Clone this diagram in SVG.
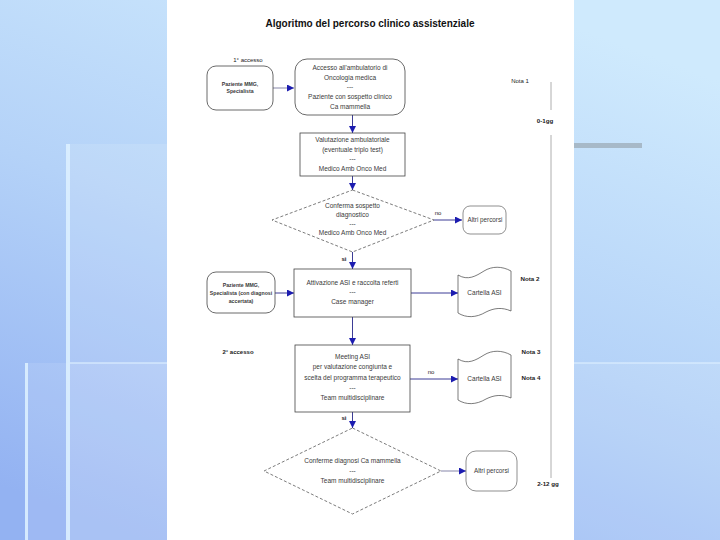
<svg xmlns="http://www.w3.org/2000/svg" width="720" height="540" viewBox="0 0 720 540">
<defs>
<linearGradient id="bg" x1="0.7" y1="0" x2="0.2" y2="1">
<stop offset="0" stop-color="#cfeafd"/>
<stop offset="0.5" stop-color="#b4d2f8"/>
<stop offset="1" stop-color="#93b2f2"/>
</linearGradient>
<marker id="ah" viewBox="0 0 10 10" refX="10" refY="5" markerWidth="7" markerHeight="7" markerUnits="userSpaceOnUse" orient="auto">
<path d="M0,0 L10,5 L0,10 Z" fill="#1c1cb0"/>
</marker>
<style>
.t{font-family:"Liberation Sans",Arial,sans-serif;fill:#3a3a3a;text-anchor:middle}
.s{font-size:6.5px}
.b{font-size:5.2px;font-weight:bold}
.n{font-size:6px;fill:#222}
.nb{font-size:6.2px;font-weight:bold;fill:#222}
.shp{fill:#fff;stroke:#444;stroke-width:0.8}
.dsh{fill:#fff;stroke:#444;stroke-width:0.7;stroke-dasharray:3,2}
.c{fill:none;stroke:#3d3d96;stroke-width:1;marker-end:url(#ah)}
.cg{fill:none;stroke:#9a9ab8;stroke-width:1.2;marker-end:url(#ah)}
</style>
</defs>
<rect width="720" height="540" fill="url(#bg)"/>
<g id="decor">
<rect x="68" y="144" width="100" height="396" fill="#ffffff" opacity="0.12"/>
<rect x="26" y="363" width="142" height="177" fill="#ffffff" opacity="0.1"/>
<rect x="574" y="363" width="146" height="177" fill="#ffffff" opacity="0.1"/>
<rect x="66" y="144" width="4" height="396" fill="#dcefff" opacity="0.9"/>
<rect x="25" y="363" width="3" height="177" fill="#dcefff" opacity="0.9"/>
<rect x="70" y="362" width="98" height="2" fill="#dcefff" opacity="0.6"/>
<rect x="574" y="362" width="146" height="2" fill="#dcefff" opacity="0.6"/>
<rect x="574" y="143" width="68" height="5" fill="#a7b9c8"/>
</g>
<rect x="167" y="0" width="407" height="540" fill="#ffffff"/>
<text class="t" x="370" y="27" style="font-size:10px;font-weight:bold;fill:#111">Algoritmo del percorso clinico assistenziale</text>
<g id="labels">
<text class="t n" x="248" y="62">1° accesso</text>
<text class="t n" x="238" y="354" style="font-weight:bold">2° accesso</text>
<text class="t n" x="520" y="83">Nota 1</text>
<text class="t nb" x="545" y="123">0-1gg</text>
<text class="t nb" x="530" y="281">Nota 2</text>
<text class="t nb" x="531" y="354">Nota 3</text>
<text class="t nb" x="531" y="380">Nota 4</text>
<text class="t nb" x="548" y="486">2-12 gg</text>
<text class="t n" x="438" y="215">no</text>
<text class="t n" x="431" y="374">no</text>
<text class="t nb" x="344" y="261">sì</text>
<text class="t nb" x="344" y="420">sì</text>
</g>
<g id="timeline">
<line x1="551" y1="82" x2="551" y2="110" stroke="#999" stroke-width="0.8"/>
<line x1="551" y1="135" x2="551" y2="478" stroke="#999" stroke-width="0.8"/>
</g>
<g id="connectors">
<line class="cg" x1="273" y1="88" x2="294" y2="88"/>
<line class="c" x1="352.5" y1="115" x2="352.5" y2="133"/>
<line class="c" x1="352.5" y1="176" x2="352.5" y2="190"/>
<line class="c" x1="434" y1="220" x2="462" y2="220"/>
<line class="c" x1="352.5" y1="252" x2="352.5" y2="269"/>
<line class="c" x1="275" y1="293" x2="294" y2="293"/>
<line class="c" x1="411" y1="293" x2="458" y2="293"/>
<line class="c" x1="352.5" y1="317" x2="352.5" y2="345"/>
<line class="c" x1="410" y1="379" x2="458" y2="379"/>
<line class="c" x1="352.5" y1="412" x2="352.5" y2="428"/>
<line class="cg" x1="441" y1="471" x2="466" y2="471"/>
</g>
<g id="paz1">
<rect class="shp" x="207" y="66" width="66" height="44" rx="9"/>
<text class="t b" x="240" y="86">Paziente MMG,</text>
<text class="t b" x="240" y="93">Specialista</text>
</g>
<g id="accesso">
<rect class="shp" x="295" y="59" width="110" height="56" rx="12"/>
<text class="t s" x="350" y="70">Accesso all'ambulatorio  di</text>
<text class="t s" x="350" y="80">Oncologia medica</text>
<text class="t s" x="350" y="89">---</text>
<text class="t s" x="350" y="99">Paziente con sospetto clinico</text>
<text class="t s" x="350" y="109">Ca mammella</text>
</g>
<g id="valutazione">
<rect class="shp" x="300" y="133" width="105" height="43"/>
<text class="t s" x="352.5" y="142">Valutazione ambulatoriale</text>
<text class="t s" x="352.5" y="152">(eventuale triplo test)</text>
<text class="t s" x="352.5" y="161">---</text>
<text class="t s" x="352.5" y="171">Medico Amb Onco Med</text>
</g>
<g id="conferma1">
<polygon class="dsh" points="352.5,190 434,220 352.5,252 272,220"/>
<text class="t s" x="352.5" y="208">Conferma sospetto</text>
<text class="t s" x="352.5" y="217">diagnostico</text>
<text class="t s" x="352.5" y="226">---</text>
<text class="t s" x="352.5" y="235">Medico Amb Onco Med</text>
</g>
<g id="altri1">
<rect class="shp" x="463" y="206" width="43" height="28" rx="7" style="stroke-width:0.6"/>
<text class="t s" x="485" y="222" style="font-size:6.3px">Altri percorsi</text>
</g>
<g id="paz2">
<rect class="shp" x="207" y="272" width="68" height="41" rx="9"/>
<text class="t b" x="241" y="287">Paziente MMG,</text>
<text class="t b" x="241" y="295">Specialista (con diagnosi</text>
<text class="t b" x="241" y="303">accertata)</text>
</g>
<g id="attivazione">
<rect class="shp" x="294" y="269" width="117" height="48"/>
<text class="t s" x="352.5" y="285">Attivazione ASI e raccolta referti</text>
<text class="t s" x="352.5" y="294">---</text>
<text class="t s" x="352.5" y="304">Case manager</text>
</g>
<g id="cartella1">
<path class="shp" d="M458,275 C468,281 476,276 484,271 C492,266 502,266 511,271 L511,311 C502,307 494,308 486,312 C476,318 466,318 458,313 Z" style="stroke-width:0.7"/>
<text class="t s" x="484.5" y="295">Cartella ASI</text>
</g>
<g id="meeting">
<rect class="shp" x="295" y="345" width="115" height="67"/>
<text class="t s" x="352.5" y="359">Meeting ASI</text>
<text class="t s" x="352.5" y="369">per valutazione congiunta e</text>
<text class="t s" x="352.5" y="380">scelta del programma terapeutico</text>
<text class="t s" x="352.5" y="390">---</text>
<text class="t s" x="352.5" y="400">Team multidisciplinare</text>
</g>
<g id="cartella2">
<path class="shp" d="M458,359 C468,365 476,360 484,355 C492,350 502,350 511,355 L511,398 C502,394 494,395 486,399 C476,405 466,405 458,400 Z" style="stroke-width:0.7"/>
<text class="t s" x="484.5" y="381">Cartella ASI</text>
</g>
<g id="conferma2">
<polygon class="dsh" points="352.5,428 441,471 352.5,514 264,471"/>
<text class="t s" x="352.5" y="463">Conferme diagnosi Ca mammella</text>
<text class="t s" x="352.5" y="473">---</text>
<text class="t s" x="352.5" y="483">Team multidisciplinare</text>
</g>
<g id="altri2">
<rect class="shp" x="466" y="451" width="51" height="40" rx="10" style="stroke-width:0.6"/>
<text class="t s" x="491.5" y="473" style="font-size:6.3px">Altri percorsi</text>
</g>
</svg>
